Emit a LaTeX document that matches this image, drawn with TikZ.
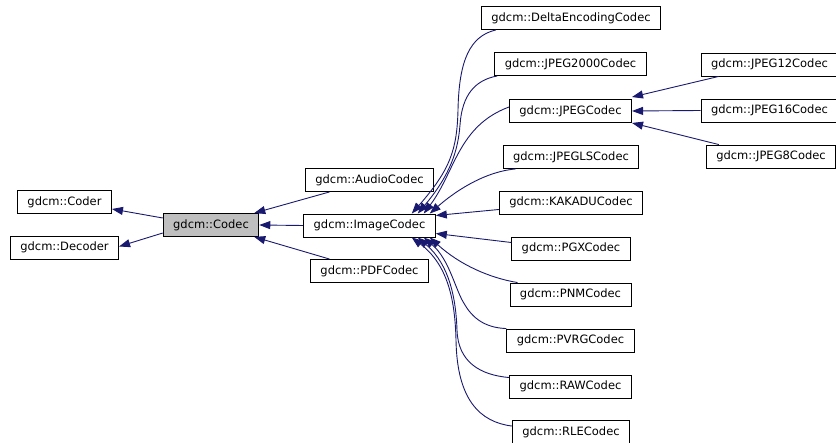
\documentclass[tikz,border=0pt]{standalone}
\usepackage{fontspec}
\setmainfont{DejaVu Sans}
\usetikzlibrary{arrows.meta}
\definecolor{dnavy}{HTML}{191970}
\definecolor{selgray}{HTML}{BFBFBF}

\begin{document}
\begin{tikzpicture}[
  x=1pt, y=-1pt,
  >={Triangle[length=11pt, width=8pt]},
  cls/.style={draw=black, line width=0.9pt, fill=white, minimum height=23pt,
    inner xsep=10pt, inner ysep=0pt, font=\fontsize{11.5}{13}\selectfont},
  inh/.style={<-, draw=dnavy, fill=none, line width=0.9pt},
]

% Canvas
\useasboundingbox (0,0) rectangle (836,443);

% =============================================
% Bases and the codec itself
% =============================================
\node[cls] (coder) at (64.5,202) {gdcm::Coder};
\node[cls] (decoder) at (64.5,247.5) {gdcm::Decoder};
\node[cls, fill=selgray] (codec) at (211,225) {gdcm::Codec};

\draw[inh] ([yshift=-7pt]coder.east) -- ([yshift=7pt]codec.west);
\draw[inh] ([yshift=1pt]decoder.east) -- ([yshift=-8pt]codec.west);

% =============================================
% Direct subclasses
% =============================================
\node[cls] (audio) at (369.5,180) {gdcm::AudioCodec};
\node[cls] (image) at (369.5,225.5) {gdcm::ImageCodec};
\node[cls] (pdf) at (369.5,271) {gdcm::PDFCodec};

\draw[inh] ([xshift=-5pt]codec.north east) -- ([xshift=-40pt]audio.south);
\draw[inh] (codec.east) -- (image.west);
\draw[inh] ([xshift=-5pt]codec.south east) -- ([xshift=-40pt]pdf.north);

% =============================================
% Image codecs
% =============================================
\node[cls] (delta) at (571,18) {gdcm::DeltaEncodingCodec};
\node[cls] (jp2k) at (570.5,64) {gdcm::JPEG2000Codec};
\node[cls] (jpeg) at (570.5,111) {gdcm::JPEGCodec};
\node[cls] (jpegls) at (571,157) {gdcm::JPEGLSCodec};
\node[cls] (kakadu) at (571,202.5) {gdcm::KAKADUCodec};
\node[cls] (pgx) at (571,248.5) {gdcm::PGXCodec};
\node[cls] (pnm) at (570.5,294.5) {gdcm::PNMCodec};
\node[cls] (pvrg) at (570.5,340.5) {gdcm::PVRGCodec};
\node[cls] (raw) at (570.5,386.5) {gdcm::RAWCodec};
\node[cls] (rle) at (571,432) {gdcm::RLECodec};

% upper fan
\draw[inh] ([xshift=-24pt]image.north east) .. controls (450,170) and (457,150) .. (458,110)
  .. controls (459,60) and (470,36) .. ([xshift=15pt]delta.south west);
\draw[inh] ([xshift=-18pt]image.north east) .. controls (451,174) and (458,150) .. (460,125)
  .. controls (462,95) and (475,80) .. ([xshift=3pt]jp2k.south west);
\draw[inh] ([xshift=-12pt]image.north east) .. controls (455,172) and (458,126) .. ([yshift=4pt]jpeg.west);
\draw[inh] ([xshift=-6pt]image.north east) .. controls (452,194) and (482,172) .. ([xshift=13pt]jpegls.south west);
\draw[inh] ([yshift=10pt]image.east) -- ([yshift=-7pt]kakadu.west);
\draw[inh] ([yshift=-8pt]image.east) -- ([yshift=6pt]pgx.west);

% lower fan
\draw[inh] ([xshift=-6pt]image.south east) .. controls (460,265) and (490,278) .. ([xshift=8pt]pnm.north west);
\draw[inh] ([xshift=-12pt]image.south east) .. controls (450,260) and (455,290) .. (465,305)
  .. controls (475,322) and (490,328) .. (pvrg.north west);
\draw[inh] ([xshift=-18pt]image.south east) .. controls (450,265) and (456,300) .. (457,330)
  .. controls (458,362) and (480,375) .. ([yshift=-3pt]raw.north west);
\draw[inh] ([xshift=-24pt]image.south east) .. controls (448,265) and (455,300) .. (456,340)
  .. controls (457,400) and (480,422) .. ([yshift=-6pt]rle.north west);

% =============================================
% JPEG variants
% =============================================
\node[cls] (jpeg12) at (769.5,64.5) {gdcm::JPEG12Codec};
\node[cls] (jpeg16) at (769.5,110.5) {gdcm::JPEG16Codec};
\node[cls] (jpeg8) at (771,156.5) {gdcm::JPEG8Codec};

\draw[inh] ([yshift=2pt]jpeg.north east) -- ([xshift=18pt]jpeg12.south west);
\draw[inh] (jpeg.east) -- (jpeg16.west);
\draw[inh] (jpeg.south east) -- ([xshift=13pt]jpeg8.north west);

\end{tikzpicture}
\end{document}
